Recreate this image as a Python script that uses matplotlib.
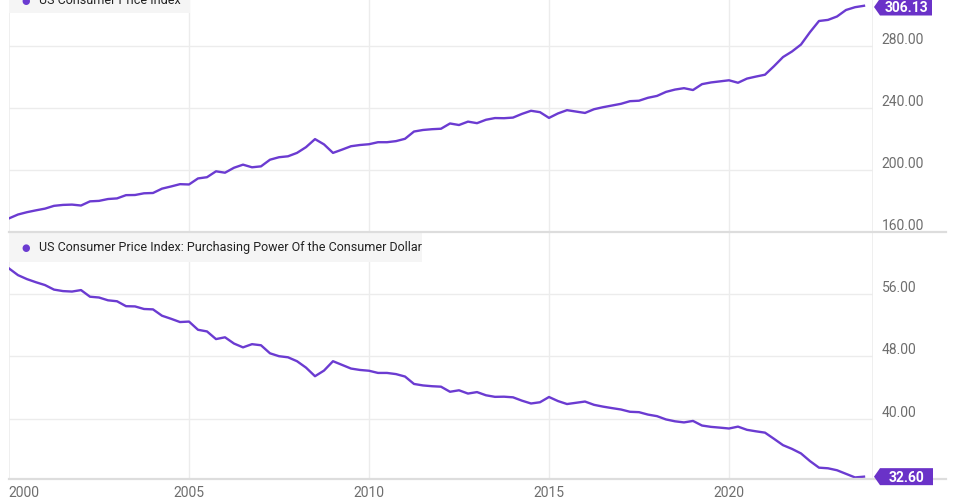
import matplotlib
matplotlib.use("Agg")
import matplotlib.pyplot as plt
from matplotlib.patches import Polygon, Rectangle
import numpy as np

plt.rcParams["font.family"] = ["Roboto", "DejaVu Sans"]

# quarterly points, Jan / Apr / Jul / Oct, 2000 - 2023
years = np.arange(2000, 2024)
cpi = [
    168.8, 171.3, 172.8, 174.0,
    175.1, 176.9, 177.5, 177.7,
    177.1, 179.8, 180.1, 181.3,
    181.7, 183.8, 183.9, 185.0,
    185.2, 188.0, 189.4, 190.9,
    190.7, 194.6, 195.4, 199.2,
    198.3, 201.5, 203.5, 201.8,
    202.4, 206.7, 208.3, 208.9,
    211.1, 214.8, 220.0, 216.6,
    211.1, 213.2, 215.4, 216.2,
    216.7, 218.0, 218.0, 218.7,
    220.2, 224.9, 225.9, 226.4,
    226.7, 230.1, 229.1, 231.3,
    230.3, 232.5, 233.6, 233.5,
    233.9, 236.3, 238.3, 237.4,
    233.7, 236.6, 238.7, 237.8,
    236.9, 239.3, 240.6, 241.7,
    242.8, 244.5, 244.8, 246.7,
    247.9, 250.5, 252.0, 252.9,
    251.7, 255.5, 256.6, 257.3,
    258.0, 256.4, 259.1, 260.4,
    261.6, 267.1, 273.0, 276.6,
    281.1, 289.1, 296.3, 297.0,
    299.2, 303.4, 305.2, 306.13,
]
power = [
    59.24, 58.38, 57.87, 57.47,
    57.11, 56.53, 56.34, 56.28,
    56.47, 55.62, 55.52, 55.16,
    55.04, 54.41, 54.38, 54.05,
    54.00, 53.19, 52.80, 52.38,
    52.44, 51.39, 51.18, 50.20,
    50.43, 49.63, 49.14, 49.55,
    49.41, 48.38, 48.01, 47.87,
    47.37, 46.55, 45.45, 46.17,
    47.37, 46.90, 46.43, 46.25,
    46.15, 45.87, 45.87, 45.72,
    45.41, 44.46, 44.27, 44.17,
    44.11, 43.46, 43.65, 43.23,
    43.42, 43.01, 42.81, 42.83,
    42.75, 42.32, 41.96, 42.12,
    42.79, 42.27, 41.89, 42.05,
    42.21, 41.79, 41.56, 41.37,
    41.19, 40.90, 40.85, 40.54,
    40.34, 39.92, 39.68, 39.54,
    39.73, 39.14, 38.97, 38.87,
    38.76, 39.00, 38.59, 38.40,
    38.23, 37.44, 36.63, 36.15,
    35.57, 34.59, 33.75, 33.67,
    33.42, 32.96, 32.50, 32.60,
]
dates = np.repeat(years, 4) + np.tile([0.0, 0.25, 0.5, 0.75], len(years))

top_ticks = [160, 200, 240, 280]
bottom_ticks = [40, 48, 56]
xticks = [2000, 2005, 2010, 2015, 2020]

PURPLE = "#6b3bd1"
TAG = "#6a32c8"
GRID = "#ececec"
TEXT = "#6e6e6e"

W, H = 961, 502
fig = plt.figure(figsize=(W / 100, H / 100), dpi=100)

left, right = 9, 873


def make_ax(top_px, bottom_px):
    return fig.add_axes([left / W, 1 - bottom_px / H, (right - left) / W,
                         (bottom_px - top_px) / H])


ax1 = make_ax(0, 233)
ax2 = make_ax(233, 480)

for ax in (ax1, ax2):
    ax.set_xlim(2000, 2024)
    for s in ax.spines.values():
        s.set_visible(False)
    ax.tick_params(left=False, right=False, bottom=False, top=False,
                   labelleft=False, labelbottom=False)
    for x in xticks[1:]:
        ax.axvline(x, color=GRID, lw=1, zorder=0)
    ax.axvline(2024, color=GRID, lw=1.2, zorder=0)
    ax.axvline(2000, color=GRID, lw=1.2, zorder=0)

ax1.set_ylim(160, 310.5)
ax2.set_ylim(32.3, 63.9)

for t in top_ticks:
    ax1.axhline(t, color=GRID, lw=1, zorder=0)
    ax1.text(1.01, t, f"{t:.2f}", transform=ax1.get_yaxis_transform(),
             ha="left", va="bottom", fontsize=10, color=TEXT)
for t in bottom_ticks:
    ax2.axhline(t, color=GRID, lw=1, zorder=0)
    ax2.text(1.01, t, f"{t:.2f}", transform=ax2.get_yaxis_transform(),
             ha="left", va="bottom", fontsize=10, color=TEXT)

# panel separator and bottom axis line
fig.add_artist(plt.Line2D([left / W, 946 / W], [1 - 233 / H, 1 - 233 / H],
                          color="#dddddd", lw=1.6))
fig.add_artist(plt.Line2D([left / W, 946 / W], [1 - 480 / H, 1 - 480 / H],
                          color="#dddddd", lw=1.6))

ax1.plot(dates, cpi, color=PURPLE, lw=1.7, zorder=3)
ax2.plot(dates, power, color=PURPLE, lw=1.7, zorder=3)

# year labels
for x in xticks:
    xpix = left + (x - 2000) / 24 * (right - left)
    if x == 2000:
        xpix = 24
    fig.text(xpix / W, 1 - 493 / H, str(x), ha="center", va="center",
             fontsize=10, color=TEXT)

# legend boxes
def legend_box(y0, y1, x1, yc_px, label):
    fig.add_artist(Rectangle((left / W, 1 - y1 / H), (x1 - left) / W,
                             (y1 - y0) / H, transform=fig.transFigure,
                             facecolor="#f5f5f5", edgecolor="none", zorder=1))
    yc = 1 - yc_px / H
    fig.text(26 / W, yc, "\u25cf", ha="center", va="center", fontsize=7,
             color=PURPLE, zorder=2)
    fig.text(39 / W, yc, label, ha="left", va="center", fontsize=9,
             color="#222222", zorder=2)


legend_box(-14, 14, 190, 1, "US Consumer Price Index")
legend_box(233, 263, 422, 248, "US Consumer Price Index: Purchasing Power Of the Consumer Dollar")

# value tags at the last point
fig.canvas.draw()


def value_tag(ax, value, box_right):
    _, yd = ax.transData.transform((dates[-1], value))
    ypix = max(H - yd, 8)
    tip = 874
    hh = 8.5
    pts = [(tip, ypix), (tip + 6, ypix - hh), (box_right, ypix - hh),
           (box_right, ypix + hh), (tip + 6, ypix + hh)]
    fig.add_artist(Polygon([(x / W, 1 - y / H) for x, y in pts],
                           closed=True, transform=fig.transFigure,
                           facecolor=TAG, edgecolor="none", zorder=5))
    fig.text((tip + 6 + box_right) / 2 / W, 1 - ypix / H, f"{value:.2f}",
             ha="center", va="center", fontsize=10, color="white",
             fontweight="bold", zorder=6)


value_tag(ax1, cpi[-1], 932)
value_tag(ax2, power[-1], 933)

fig.savefig("out.png", dpi=100)
